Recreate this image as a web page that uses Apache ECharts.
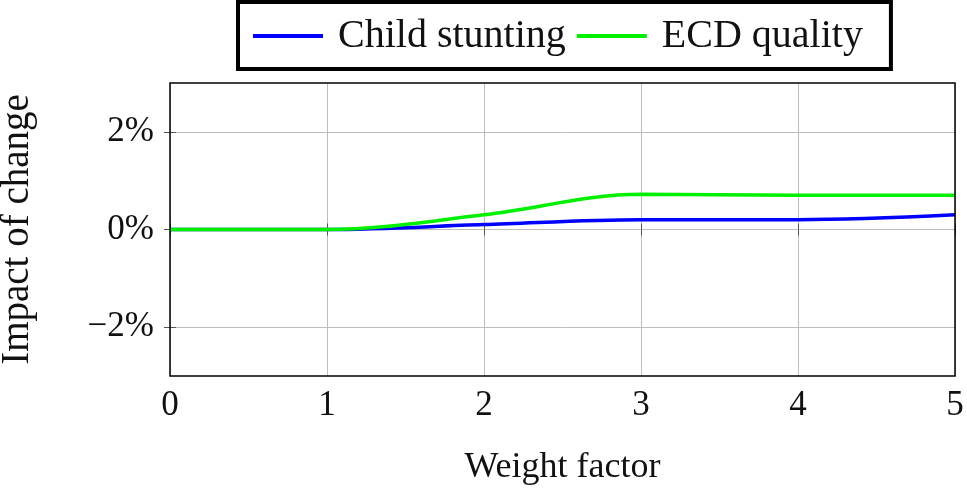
<!DOCTYPE html>
<html><head><meta charset="utf-8">
<script src="https://cdn.jsdelivr.net/npm/echarts@6/dist/echarts.min.js"></script>
<style>html,body{margin:0;padding:0;background:#fff}#c{width:967px;height:492px}</style>
</head><body><div id="c"></div>
<script>
const xValues = [0, 1, 2, 3, 4, 5];
const childStunting = [0, 0, 0.1, 0.2, 0.2, 0.3];
const ecdQuality = [0, 0, 0.3, 0.72, 0.7, 0.7];
const yTicks = [-2, 0, 2];
const xTicks = [0, 1, 2, 3, 4, 5];

const font = 'Liberation Serif';
const chart = echarts.init(document.getElementById('c'));
const pair = arr => xValues.map((x, i) => [x, arr[i]]);
const fmtY = v => (v < 0 ? '\u2212' + Math.abs(v) : v) + '%';
const tickStyle = { show: true, inside: true, length: 6, lineStyle: { color: '#555', width: 1 } };

chart.setOption({
  animation: false,
  grid: { left: 170, right: 12, top: 83, bottom: 116, show: true, borderColor: '#000', borderWidth: 1.5, z: 10, outerBoundsMode: 'none', containLabel: false },
  legend: {
    top: 2, left: 238,
    data: ['Child stunting', 'ECD quality'],
    borderColor: '#000', borderWidth: 4, padding: [14, 28, 13, 15],
    itemWidth: 70, itemHeight: 4, itemGap: 11,
    icon: 'rect',
    textStyle: { fontFamily: font, fontSize: 40, color: '#111', padding: [0, 0, 0, 10] }
  },
  xAxis: [{
    type: 'value', min: 0, max: 5, interval: 1,
    name: 'Weight factor', nameLocation: 'middle', nameGap: 74,
    nameTextStyle: { fontFamily: font, fontSize: 36, color: '#111' },
    axisLine: { show: false },
    axisTick: Object.assign({ customValues: xTicks }, tickStyle),
    axisLabel: { customValues: xTicks, fontFamily: font, fontSize: 35, color: '#111', margin: 12 },
    splitLine: { show: true, lineStyle: { color: '#bdbdbd', width: 1 } }
  }, {
    type: 'value', min: 0, max: 5, interval: 1, position: 'top',
    axisLine: { show: false }, axisLabel: { show: false },
    axisTick: Object.assign({ customValues: xTicks }, tickStyle),
    splitLine: { show: false }
  }],
  yAxis: [{
    type: 'value', min: -3, max: 3,
    name: 'Impact of change', nameLocation: 'middle', nameGap: 133,
    nameTextStyle: { fontFamily: font, fontSize: 39, color: '#111' },
    axisLine: { show: false },
    axisTick: Object.assign({ customValues: yTicks }, tickStyle),
    axisLabel: { customValues: yTicks, formatter: fmtY, fontFamily: font, fontSize: 35, color: '#111', margin: 16 },
    splitLine: { show: true, lineStyle: { color: '#bdbdbd', width: 1 } }
  }, {
    type: 'value', min: -3, max: 3, position: 'right',
    axisLine: { show: false }, axisLabel: { show: false },
    axisTick: Object.assign({ customValues: yTicks }, tickStyle),
    splitLine: { show: false }
  }],
  series: [{
    name: 'Child stunting', type: 'line', smooth: 0.35, showSymbol: false,
    data: pair(childStunting), color: '#0000ff', lineStyle: { width: 3.5, color: '#0000ff' }, z: 3
  }, {
    name: 'ECD quality', type: 'line', smooth: 0.35, showSymbol: false,
    data: pair(ecdQuality), color: '#00f000', lineStyle: { width: 3.5, color: '#00f000' }, z: 4
  }]
});
</script></body></html>
